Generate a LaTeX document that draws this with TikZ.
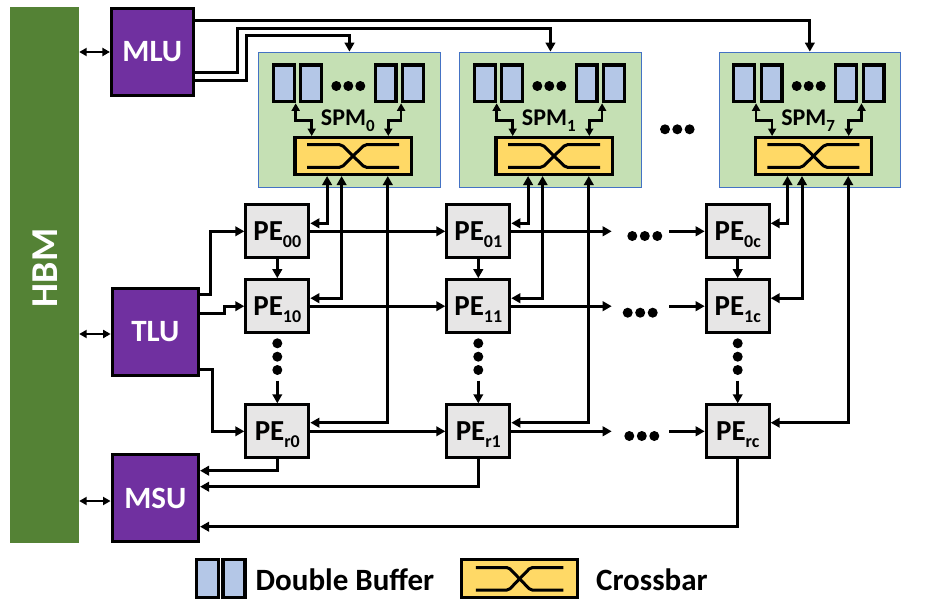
\documentclass[tikz,border=0pt]{standalone}
\usepackage{fontspec}
\setmainfont{Carlito}
\usetikzlibrary{arrows.meta,calc}
\definecolor{hbmgreen}{HTML}{548235}
\definecolor{unitpurple}{HTML}{7030A0}
\definecolor{pegray}{HTML}{E7E6E6}
\definecolor{spmgreen}{HTML}{C5E0B4}
\definecolor{spmblue}{HTML}{4472C4}
\definecolor{bufblue}{HTML}{B4C7E7}
\definecolor{xbaryellow}{HTML}{FFD966}
\newcommand\pelabel[1]{{\fontsize{29}{29}\selectfont PE\smash{\raisebox{-6.5pt}{\fontsize{18}{18}\selectfont #1}}}}
\newcommand\spmlabel[1]{{\fontsize{24}{24}\selectfont SPM\smash{\raisebox{-6pt}{\fontsize{17}{17}\selectfont #1}}}}
\tikzset{
  unitbox/.style={draw, line width=3pt, fill=unitpurple, text=white, inner sep=0pt,
    font=\fontsize{31}{31}\selectfont\bfseries},
  pebox/.style={draw, line width=3pt, fill=pegray, minimum width=63, minimum height=53,
    inner sep=0pt, font=\bfseries},
  spmbox/.style={draw=spmblue, line width=1.1pt, fill=spmgreen, minimum width=181.3,
    minimum height=135, inner sep=0pt},
  bufbox/.style={draw, line width=3.2pt, fill=bufblue, minimum width=20.8, minimum height=36.8, inner sep=0pt},
  xbarbox/.style={draw, line width=3.2pt, fill=xbaryellow, minimum width=116.3, minimum height=36.8, inner sep=0pt},
  conn/.style={line width=3pt, -{Triangle[length=9pt,width=9.5pt]}},
  biconn/.style={line width=3pt, {Triangle[length=9pt,width=9.5pt]}-{Triangle[length=9pt,width=9.5pt]}},
  smallbi/.style={line width=2.6pt, {Triangle[length=7.5pt,width=8pt]}-{Triangle[length=7.5pt,width=8pt]}},
  hbmarrow/.style={line width=2.4pt, {Triangle[length=7.5pt,width=8pt]}-{Triangle[length=7.5pt,width=8pt]}},
  bigdot/.style={fill, circle, minimum size=10, inner sep=0pt},
  xsym/.pic={
    \draw[line width=3pt, rounded corners=2pt] (-46,-11.3) -- (-11.5,-11.3) -- (11.5,11.3) -- (46,11.3);
    \draw[line width=3pt, rounded corners=2pt] (-46,11.3) -- (-11.5,11.3) -- (11.5,-11.3) -- (46,-11.3);
  },
  legtext/.style={anchor=west, inner sep=0pt, font=\fontsize{31}{31}\selectfont\bfseries}
}
\begin{document}
\begin{tikzpicture}[x=1pt,y=-1pt]
\useasboundingbox (0,0) rectangle (943,605);

% HBM
\node[fill=hbmgreen, minimum width=69.5, minimum height=536.5, inner sep=0pt] (hbm) at (44.25,274.75) {};
\node[rotate=90, text=white, font=\fontsize{38}{38}\selectfont\bfseries, inner sep=0pt] (hbmtext) at (45.5,268) {HBM};

% units
\node[unitbox, minimum width=81.7, minimum height=87] (mlu) at (152.3,52) {MLU};
\node[unitbox, minimum width=86.3, minimum height=86.4] (tlu) at (155.3,332) {TLU};
\node[unitbox, minimum width=86.5, minimum height=87] (msu) at (155.3,498) {MSU};

\draw[hbmarrow] (hbm.east |- mlu.west) -- (mlu.west);
\draw[hbmarrow] ($(hbm.east |- tlu.west)+(0,2)$) -- ($(tlu.west)+(0,2)$);
\draw[hbmarrow] ($(hbm.east |- msu.west)+(0,3)$) -- ($(msu.west)+(0,3)$);

% SPMs
\foreach \i/\L in {0/258.3, 1/459.3, 7/718.7}{
  \node[spmbox] (spm\i) at ({\L+91.15},119.7) {};
  \node[bufbox] (b\i a) at ({\L+25.4},83.3) {};
  \node[bufbox] (b\i b) at ({\L+52.9},83.3) {};
  \node[bufbox] (b\i c) at ({\L+127.3},83.3) {};
  \node[bufbox] (b\i d) at ({\L+154.8},83.3) {};
  \node[bigdot] (d\i a) at ({\L+78},86) {};
  \node[bigdot] (d\i b) at ({\L+90},86) {};
  \node[bigdot] (d\i c) at ({\L+102},86) {};
  \node[inner sep=0pt, font=\bfseries] (sl\i) at ({\L+89.5},118) {\spmlabel{\i}};
  \node[xbarbox] (xbar\i) at ({\L+94.75},156) {};
  \pic at (xbar\i.center) {xsym};
  \draw[smallbi] (b\i a.south east) -- ++(0,17) -| ($(xbar\i.north west)+(18.4,0)$);
  \draw[smallbi] (b\i d.south west) -- ++(0,17) -| ($(xbar\i.north west)+(95,0)$);
}
\node[bigdot] (sd1) at (665,129.3) {};
\node[bigdot] (sd2) at (677.3,129.3) {};
\node[bigdot] (sd3) at (689.6,129.3) {};

% MLU to SPMs
\draw[conn] ($(mlu.north east)+(0,13.7)$) -| (spm7.north);
\draw[conn] ($(mlu.north east)+(-2,65.7)$) -- (237.3,72.7) -- (237.3,28.3) -| (spm1.north);
\draw[conn] ($(mlu.north east)+(-2,73)$) -- (246.7,80) -- (246.7,35) -| (spm0.north);

% PEs
\foreach \c/\x in {0/277.3, 1/478.3, c/737.7}{
  \node[pebox] (pe0\c) at (\x,231.3) {\pelabel{0\c}};
  \node[pebox] (pe1\c) at (\x,306.2) {\pelabel{1\c}};
  \node[pebox] (per\c) at (\x,431.3) {\pelabel{r\c}};
  \draw[conn] (pe0\c.south) -- (pe1\c.north);
  \node[bigdot] (v\c a) at (\x,343.3) {};
  \node[bigdot] (v\c b) at (\x,356.7) {};
  \node[bigdot] (v\c c) at (\x,370) {};
  \coordinate (v\c s) at (\x,380.7);
  \draw[conn] (v\c s) -- (per\c.north);
}

% crossbar to PE
\foreach \i/\c in {0/0, 1/1, 7/c}{
  \draw[biconn] ($(xbar\i.south west)+(33.8,0)$) |- ($(pe0\c.east)+(0,-8)$);
  \draw[biconn] ($(xbar\i.south west)+(48.3,0)$) |- ($(pe1\c.east)+(0,-8)$);
  \draw[biconn] ($(xbar\i.south west)+(94.5,0)$) |- ($(per\c.east)+(0,-8.6)$);
}

% horizontal PE links
\foreach \r/\da/\y in {0/632.3/236, 1/627.7/312.7, r/629.3/436}{
  \draw[conn] (pe\r0.east) -- (pe\r1.west);
  \coordinate (h\r a) at (611.7, 0 |- pe\r1.east);
  \draw[conn] (pe\r1.east) -- (h\r a);
  \node[bigdot] (hd\r a) at (\da,\y) {};
  \node[bigdot] (hd\r b) at ({\da+12.5},\y) {};
  \node[bigdot] (hd\r c) at ({\da+25},\y) {};
  \coordinate (h\r b) at (669, 0 |- pe\r c.west);
  \draw[conn] (h\r b) -- (pe\r c.west);
}

% TLU to PEs
\draw[conn] ($(tlu.north east)+(0,6.7)$) -- (210.7,294) |- (pe00.west);
\draw[conn] ($(tlu.north east)+(0,26)$) -- (224,313.3) |- (pe10.west);
\draw[conn] ($(tlu.north east)+(0,82)$) -- (212.7,369.3) |- (per0.west);

% PEs to MSU
\draw[conn] (per0.south) |- ($(msu.north east)+(0,17.7)$);
\draw[conn] (per1.south) |- ($(msu.north east)+(0,33.7)$);
\draw[conn] (perc.south) |- ($(msu.north east)+(0,73.7)$);

% legend
\node[bufbox, minimum width=22, minimum height=38] (lb1) at (207.1,578.8) {};
\node[bufbox, minimum width=22, minimum height=38] (lb2) at (234,578.8) {};
\node[legtext] (lbt) at (255.5,580) {Double Buffer};
\node[xbarbox, minimum width=115.5, minimum height=38] (lx) at (519.6,578.8) {};
\pic[xscale=0.95] at (lx.center) {xsym};
\node[legtext] (lxt) at (596,580) {Crossbar};
\end{tikzpicture}
\end{document}
